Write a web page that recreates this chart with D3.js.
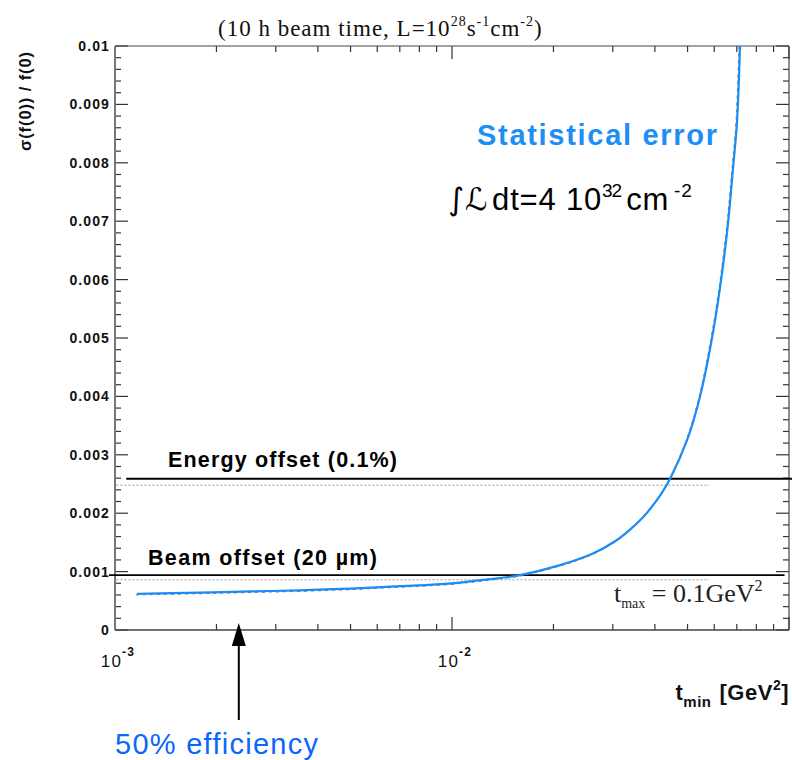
<!DOCTYPE html>
<html>
<head>
<meta charset="utf-8">
<script src="https://cdn.jsdelivr.net/npm/d3@7"></script>
<style>
  html, body { margin: 0; padding: 0; background: #fff; }
  svg { display: block; }
</style>
</head>
<body>
<svg id="chart" width="792" height="760"></svg>
<script>
// Statistical error of f(0) versus the lower t cut (t_max = 0.1 GeV^2)
const tmin = [0.001162, 0.001787, 0.002515, 0.003539, 0.004982, 0.007009, 0.0100, 0.01297, 0.01592,
              0.02092, 0.02620, 0.03047, 0.03375, 0.03688, 0.04143, 0.04437, 0.04982, 0.05444,
              0.06032, 0.06546, 0.06820, 0.07009, 0.07154];
const sigma = [0.00062, 0.00064, 0.00066, 0.00068, 0.00071, 0.00075, 0.00080, 0.00087, 0.00094,
               0.00111, 0.00131, 0.00152, 0.00172, 0.00193, 0.00230, 0.00259, 0.00325, 0.00400,
               0.00530, 0.00680, 0.00790, 0.00870, 0.01000];

// Systematic levels: solid reference lines and dotted companions
const systNames = ["Energy offset (0.1%)", "Beam offset (20 µm)"];
const systSolid = [0.00259, 0.00094];
const systDotted = [0.00248, 0.00086];
const systSolidFrom = [0.00108, 0.00096];
const systSolidTo = [0.1022, 0.0970];
const dottedFrom = 0.00101;
const dottedTo = 0.0580;

// Axis ticks
const xDomain = [0.001, 0.1];
const yDomain = [0, 0.01];
const xMajorTicks = [0.001, 0.01, 0.1];
const xLabelTicks = [0.001, 0.01];
const xLabelExponents = ["-3", "-2"];
const yMajorTicks = d3.range(0, 11).map(i => i * 0.001);
const yTickLabels = ["0", "0.001", "0.002", "0.003", "0.004", "0.005", "0.006", "0.007", "0.008", "0.009", "0.01"];
const yMinorTicks = d3.range(0, 51).map(i => i * 0.0002);

// Efficiency marker
const effT = 0.00233;

const svg = d3.select("#chart");
const L = 115, R = 789, T = 46, B = 630;

const x = d3.scaleLog().domain(xDomain).range([L, R]);
const y = d3.scaleLinear().domain(yDomain).range([B, T]);

const sans = "'Liberation Sans', Arial, Helvetica, sans-serif";
const serif = "'Liberation Serif', 'Times New Roman', serif";
const blue = "#1a8cf5";

// minor x ticks: 2..9 in each decade
const xMinorTicks = [];
[0.001, 0.01].forEach(d => { for (let k = 2; k <= 9; k++) xMinorTicks.push(d * k); });

const g = svg.append("g");

// Ticks (inward, mirrored on all four sides)
const tickCol = "#333";
yMinorTicks.forEach(v => {
  const major = Math.abs(v * 1000 - Math.round(v * 1000)) < 1e-6;
  const len = major ? 13 : 6;
  g.append("line").attr("x1", L).attr("x2", L + len).attr("y1", y(v)).attr("y2", y(v))
    .attr("stroke", tickCol).attr("stroke-width", 1.2);
  g.append("line").attr("x1", R).attr("x2", R - len).attr("y1", y(v)).attr("y2", y(v))
    .attr("stroke", tickCol).attr("stroke-width", 1.2);
});
xMinorTicks.concat(xMajorTicks).forEach(v => {
  const major = xMajorTicks.includes(v);
  const len = major ? 13 : 6;
  g.append("line").attr("x1", x(v)).attr("x2", x(v)).attr("y1", B).attr("y2", B - len)
    .attr("stroke", tickCol).attr("stroke-width", 1.2);
  g.append("line").attr("x1", x(v)).attr("x2", x(v)).attr("y1", T).attr("y2", T + len)
    .attr("stroke", tickCol).attr("stroke-width", 1.2);
});

// Frame
g.append("line").attr("x1", L).attr("x2", R).attr("y1", T).attr("y2", T).attr("stroke", "#444").attr("stroke-width", 1.2);
g.append("line").attr("x1", R).attr("x2", R).attr("y1", T).attr("y2", B).attr("stroke", "#444").attr("stroke-width", 1.2);
g.append("line").attr("x1", L).attr("x2", R).attr("y1", B).attr("y2", B).attr("stroke", "#444").attr("stroke-width", 1.5);
g.append("line").attr("x1", L).attr("x2", L).attr("y1", T).attr("y2", B).attr("stroke", "#777").attr("stroke-width", 2);

// Y tick labels
yMajorTicks.forEach((v, i) => {
  g.append("text").attr("x", 110).attr("y", y(v)).attr("dy", "0.36em")
    .attr("text-anchor", "end").attr("font-family", sans).attr("font-weight", "bold")
    .attr("font-size", 14).attr("fill", "#111").attr("letter-spacing", 1.1).text(yTickLabels[i]);
});

// X tick labels (10^n)
xLabelTicks.forEach((v, i) => {
  const t = g.append("text").attr("x", x(v) + 3).attr("y", 667).attr("text-anchor", "middle")
    .attr("font-family", sans).attr("font-size", 17).attr("fill", "#111").attr("letter-spacing", 1.2);
  t.append("tspan").text("10");
  t.append("tspan").attr("dy", -11).attr("font-size", 12).attr("font-weight", "bold").text(xLabelExponents[i]);
});

// Axis titles
g.append("text").attr("transform", "translate(31,101) rotate(-90)")
  .attr("text-anchor", "middle").attr("font-family", sans).attr("font-weight", "bold")
  .attr("font-size", 16.5).attr("fill", "#111").attr("letter-spacing", 0.9).text("σ(f(0)) / f(0)");

const xt = g.append("text").attr("x", 789).attr("y", 700).attr("text-anchor", "end")
  .attr("font-family", sans).attr("font-weight", "bold").attr("font-size", 22).attr("fill", "#111")
  .attr("letter-spacing", 0.5);
xt.append("tspan").text("t");
xt.append("tspan").attr("dy", 7).attr("font-size", 15).text("min");
xt.append("tspan").attr("dy", -7).attr("dx", 8).text("[GeV");
xt.append("tspan").attr("dy", -10).attr("font-size", 14).text("2");
xt.append("tspan").attr("dy", 10).text("]");

// Title
const title = g.append("text").attr("x", 218).attr("y", 36)
  .attr("font-family", serif).attr("font-size", 23).attr("fill", "#111").attr("letter-spacing", 1);
title.append("tspan").text("(10 h beam time, L=10");
title.append("tspan").attr("dy", -10).attr("font-size", 14).text("28");
title.append("tspan").attr("dy", 10).text("s");
title.append("tspan").attr("dy", -10).attr("font-size", 14).text("-1");
title.append("tspan").attr("dy", 10).text("cm");
title.append("tspan").attr("dy", -10).attr("font-size", 14).text("-2");
title.append("tspan").attr("dy", 10).text(")");

// Dotted companion lines
systDotted.forEach(v => {
  g.append("line").attr("x1", x(dottedFrom)).attr("x2", x(dottedTo)).attr("y1", y(v)).attr("y2", y(v))
    .attr("stroke", "#9a9a9a").attr("stroke-width", 1).attr("stroke-dasharray", "2,2");
});

// Solid systematic lines
systSolid.forEach((v, i) => {
  g.append("line").attr("x1", x(systSolidFrom[i])).attr("x2", x(systSolidTo[i])).attr("y1", y(v)).attr("y2", y(v))
    .attr("stroke", "#000").attr("stroke-width", 1.8);
});

// Systematic labels
g.append("text").attr("x", 168).attr("y", 467).attr("font-family", sans).attr("font-weight", "bold")
  .attr("font-size", 21.5).attr("fill", "#000").attr("textLength", 229).attr("lengthAdjust", "spacing").text(systNames[0]);
g.append("text").attr("x", 148).attr("y", 565).attr("font-family", sans).attr("font-weight", "bold")
  .attr("font-size", 21.5).attr("fill", "#000").attr("textLength", 229).attr("lengthAdjust", "spacing").text(systNames[1]);

// Statistical error curve
const pts = tmin.map((t, i) => [t, sigma[i]]);
const line = d3.line().x(d => x(d[0])).y(d => y(d[1])).curve(d3.curveCatmullRom.alpha(0.5));
g.append("path").attr("d", line(pts)).attr("fill", "none").attr("stroke", "#777")
  .attr("stroke-width", 1.2).attr("stroke-dasharray", "3,4").attr("transform", "translate(-1,1)");
g.append("path").attr("d", line(pts)).attr("fill", "none").attr("stroke", blue).attr("stroke-width", 2.2);

// Annotations
g.append("text").attr("x", 477).attr("y", 145).attr("font-family", sans).attr("font-weight", "bold")
  .attr("font-size", 29).attr("fill", "#1e8ef7").attr("textLength", 240).attr("lengthAdjust", "spacing")
  .text("Statistical error");

const lum = g.append("text").attr("x", 448).attr("y", 210).attr("font-family", sans)
  .attr("font-size", 31).attr("fill", "#000").attr("letter-spacing", 0.8);
lum.append("tspan").attr("font-family", "'DejaVu Sans', sans-serif").text("∫");
lum.append("tspan").attr("font-family", "'DejaVu Sans', sans-serif").attr("font-style", "italic").text("ℒ");
lum.append("tspan").attr("dx", 4).text("dt=4 10");
lum.append("tspan").attr("dy", -13).attr("font-size", 19).attr("letter-spacing", -1).text("32");
lum.append("tspan").attr("dy", 13).attr("dx", 5).text("cm");
lum.append("tspan").attr("dy", -13).attr("dx", 5).attr("font-size", 19).text("-2");

const tm = g.append("text").attr("x", 614).attr("y", 602).attr("font-family", serif)
  .attr("font-size", 26).attr("fill", "#222");
tm.append("tspan").text("t");
tm.append("tspan").attr("dy", 6).attr("font-size", 14).text("max");
tm.append("tspan").attr("dy", -6).text(" = 0.1GeV");
tm.append("tspan").attr("dy", -11).attr("font-size", 16).text("2");

// 50% efficiency arrow
const ax = x(effT);
g.append("line").attr("x1", ax).attr("x2", ax).attr("y1", 720).attr("y2", 640)
  .attr("stroke", "#000").attr("stroke-width", 2);
g.append("path").attr("d", `M${ax},623 L${ax - 7},646 L${ax + 7},646 Z`).attr("fill", "#000");

g.append("text").attr("x", 115).attr("y", 754).attr("font-family", sans).attr("font-size", 29)
  .attr("fill", "#0a66ff").attr("textLength", 203).attr("lengthAdjust", "spacing").text("50% efficiency");
</script>
</body>
</html>
